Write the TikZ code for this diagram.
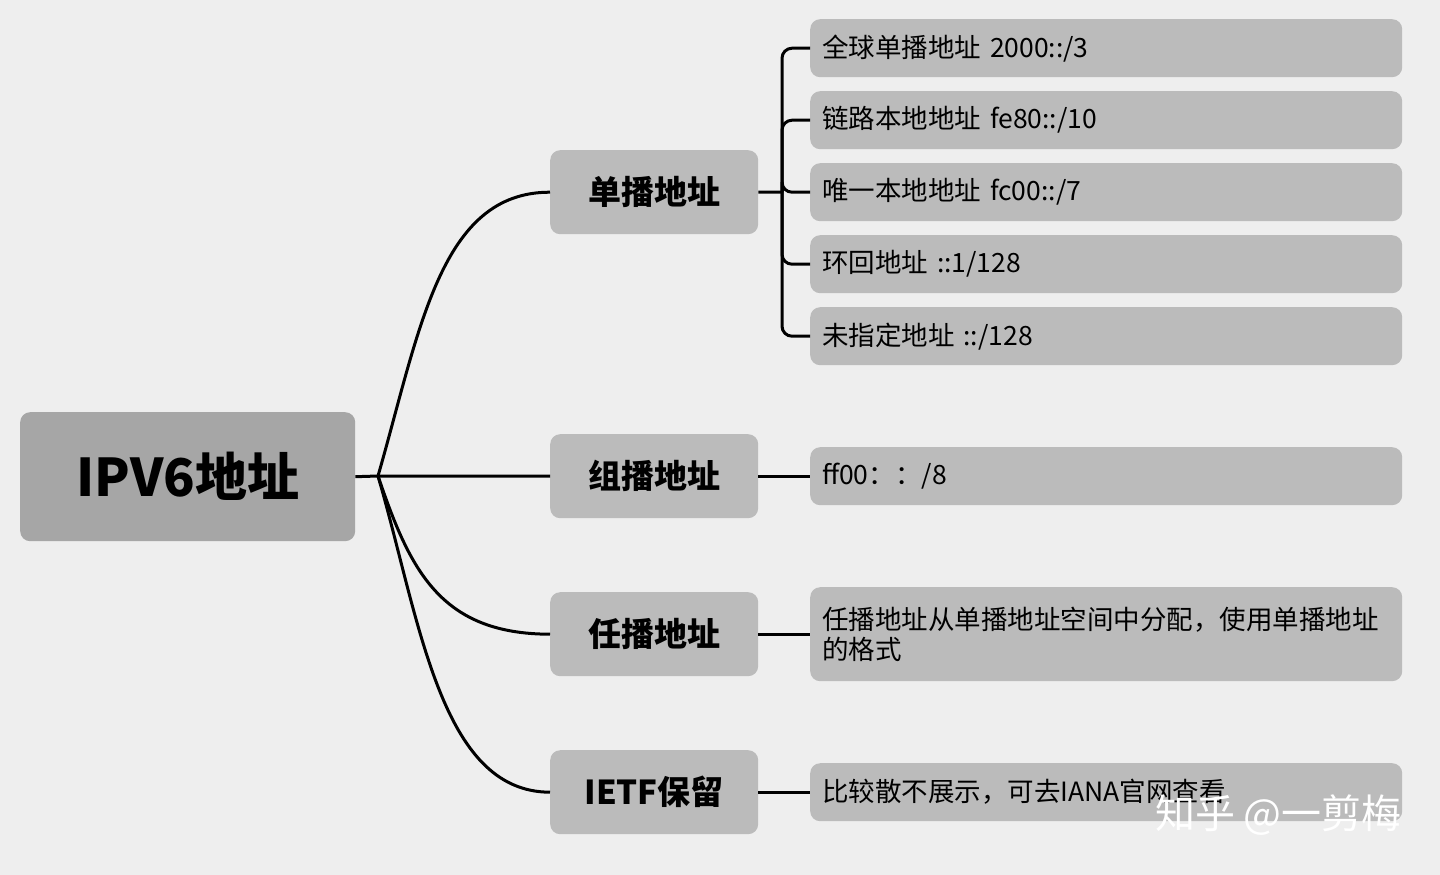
\documentclass[tikz,border=0pt]{standalone}
\usepackage{fontspec}
\setmainfont{Noto Sans CJK SC}
\begin{document}
\begin{tikzpicture}[x=1pt,y=-1pt,
  rootbox/.style={fill={rgb,255:red,166;green,166;blue,166},rounded corners=10pt,inner sep=0pt,anchor=north west,font=\fontsize{52}{60}\selectfont\bfseries},
  midbox/.style={fill={rgb,255:red,187;green,187;blue,187},rounded corners=10pt,inner sep=0pt,anchor=north west,minimum width=208pt,font=\fontsize{33}{40}\selectfont\bfseries},
  leafbox/.style={fill={rgb,255:red,187;green,187;blue,187},rounded corners=10pt,inner sep=0pt,inner xsep=12pt,anchor=north west,minimum width=592pt,text width=568pt,align=left,font=\fontsize{26.5}{30}\selectfont},
  conn/.style={line width=3pt,black}]
\fill[fill={rgb,255:red,238;green,238;blue,238}] (0,0) rectangle (1440,875);
\useasboundingbox (0,0) rectangle (1440,875);
\node[rootbox,minimum width=335pt,minimum height=129pt] (root) at (20,412) {IPV6地址};
\node[midbox,minimum height=84pt] (uni) at (550,150) {单播地址};
\node[midbox,minimum height=84pt] (multi) at (550,434) {组播地址};
\node[midbox,minimum height=84pt] (any) at (550,592) {任播地址};
\node[midbox,minimum height=84pt] (ietf) at (550,750) {IETF保留};
\node[leafbox,minimum height=58pt] (l1) at (810,19) {全球单播地址 2000::/3};
\node[leafbox,minimum height=58pt] (l2) at (810,91) {链路本地地址 fe80::/10};
\node[leafbox,minimum height=58pt] (l3) at (810,163) {唯一本地地址 fc00::/7};
\node[leafbox,minimum height=58pt] (l4) at (810,235) {环回地址 ::1/128};
\node[leafbox,minimum height=58pt] (l5) at (810,307) {未指定地址 ::/128};
\node[leafbox,minimum height=58pt] (m1) at (810,447) {ff00：：/8};
\node[leafbox,minimum height=94pt] (a1) at (810,587) {任播地址从单播地址空间中分配，使用单播地址\\的格式};
\node[leafbox,minimum height=58pt] (e1) at (810,763) {比较散不展示，可去IANA官网查看};
\coordinate (hub) at (378,476);
\draw[conn] (root.east) -- (hub);
\draw[conn] (hub) .. controls (420,330) and (440,192) .. (uni.west);
\draw[conn] (hub) -- (multi.west);
\draw[conn] (hub) .. controls (410,570) and (440,634) .. (any.west);
\draw[conn] (hub) .. controls (420,620) and (440,792) .. (ietf.west);
\coordinate (bh) at (782,192);
\draw[conn] (uni.east) -- (bh);
\foreach \n in {l1,l2,l3,l4,l5}{\draw[conn,rounded corners=10pt] (bh) |- (\n.west);}
\draw[conn] (multi.east) -- (m1.west);
\draw[conn] (any.east) -- (a1.west);
\draw[conn] (ietf.east) -- (e1.west);
\node[text=white,font=\fontsize{40}{44}\selectfont,anchor=east,inner sep=0pt] (wm) at (1402,815) {知乎 @一剪梅};
\end{tikzpicture}
\end{document}
